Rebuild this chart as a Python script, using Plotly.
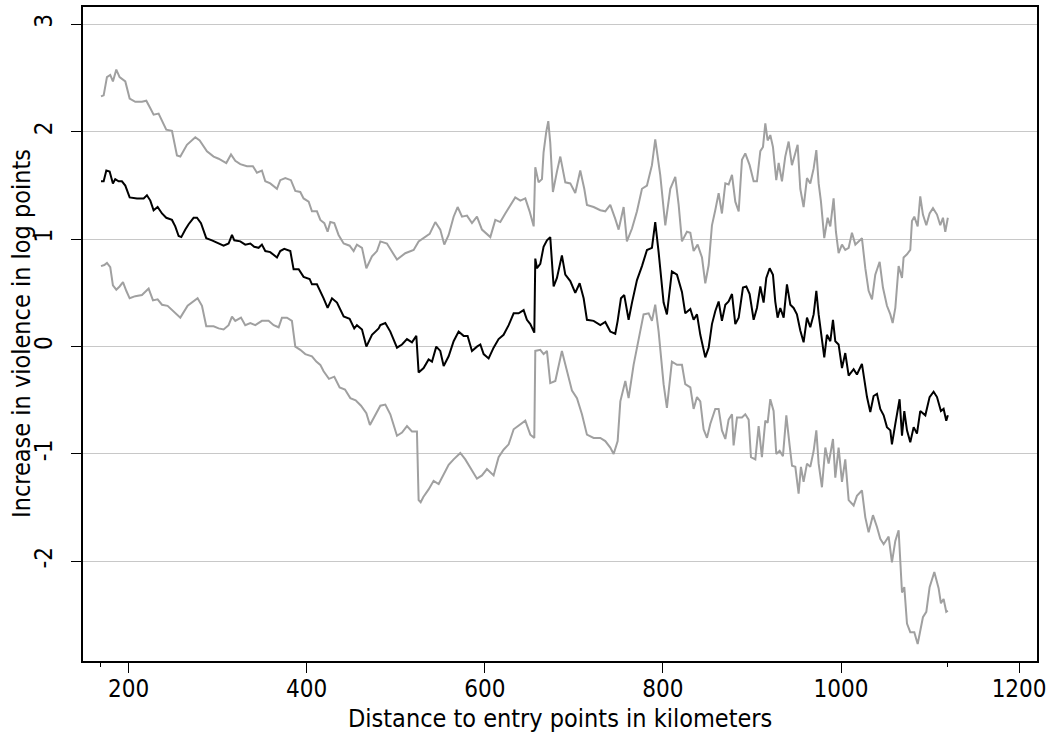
import plotly.graph_objects as go

# ---------------- data ----------------
x_est = [169, 172, 175, 178.7, 182.4, 185, 188.8, 192.5, 196.3, 201.2, 209.4, 216.9, 220.6, 224.4,
         228.1, 232.6, 237.5, 242.3, 248.7, 252.4, 256.2, 259.2, 263.7, 267.4, 273, 276.8, 281.3,
         287.2, 293.6, 301.1, 306.7, 312.3, 316.1, 318.7, 325.4, 331, 336.7, 341.1, 346, 349.7,
         353.5, 359.1, 366.6, 370.3, 374.8, 381.6, 385.3, 391, 396.5, 403.3, 405.9, 411.5, 416,
         419, 423.5, 428.4, 434, 441.5, 448.2, 453.4, 456.4, 462.1, 467, 473.3, 480.8,
         482.7, 488.3, 493.9, 501.4, 507, 512.6, 518.2, 523.1, 525.7, 531.3, 536.9, 540.7, 545.5,
         550, 553.8, 559.4, 565, 570.6, 576.2, 580.7, 585.6, 591.2, 595, 598.7, 604.3, 609.9,
         615.5, 621.1, 626.8, 632.4, 638, 643.6, 647.3, 651.1, 655.6, 656.7, 658.6, 662.3, 666,
         669.8, 673.5, 677.3, 681, 686.6, 690.4, 696, 701.6, 706.5, 711, 714.7, 722.2, 729.7,
         735.3, 740.9, 746.5, 749.2, 752.9, 756.6, 761.5, 765.3, 770.9, 776.5, 782.1, 787.7,
         791.4, 795.2, 800.8, 804.5, 810.1, 815.8, 821.4, 825.1,
         830.8, 834.5, 838.3, 842, 847.6, 851.4, 855.1, 858.8, 862.6, 866.3, 870.1, 873.8, 877.6,
         881.3, 885.1, 889.9, 893.7, 897.4, 901.9, 905.6, 909.4, 913.1, 916.1, 919.9, 923.6,
         926.2, 928.8, 931.8, 935.6, 939.3, 943.1, 946.8, 950.5, 954.3, 958, 961.8, 965.5, 969.3,
         972.3, 974.9, 977.5, 981.2, 984.2, 988, 991, 993.6, 997.3, 1001.1, 1004.8, 1008.6,
         1014.2, 1017.9, 1023.5,
         1029.2, 1032.9, 1036.6, 1040.4, 1044.1, 1047.9, 1051.6, 1055.4, 1057.2, 1061, 1065.8,
         1068.5, 1071.1, 1074.1, 1077.8, 1081.6, 1085.3, 1089, 1094.7, 1099.5, 1104, 1107.8,
         1112.2, 1115.2, 1118.2, 1120]
y_est = [1.54, 1.54, 1.64, 1.63, 1.52, 1.56, 1.54, 1.54, 1.50, 1.39, 1.38, 1.38, 1.41, 1.36,
         1.27, 1.30, 1.24, 1.20, 1.18, 1.12, 1.03, 1.02, 1.09, 1.14, 1.20, 1.20, 1.15,
         1.01, 0.99, 0.96, 0.94, 0.96, 1.04, 0.99, 0.98, 0.95, 0.96, 0.93, 0.92, 0.95,
         0.89, 0.88, 0.83, 0.89, 0.91, 0.89, 0.72, 0.72, 0.65, 0.63, 0.58, 0.58, 0.51,
         0.45, 0.36, 0.45, 0.41, 0.28, 0.26, 0.17, 0.20, 0.16, 0.00, 0.11, 0.17,
         0.20, 0.22, 0.14, -0.01, 0.02, 0.07, 0.04, 0.10, -0.24, -0.20, -0.12, -0.14, 0.00,
         -0.04, -0.18, -0.09, 0.05, 0.14, 0.10, 0.10, -0.04, 0.00, 0.02, -0.07, -0.11, -0.01,
         0.07, 0.11, 0.20, 0.31, 0.31, 0.34, 0.25, 0.21, 0.13, 0.82, 0.73, 0.77, 0.93,
         0.99, 1.02, 0.56, 0.64, 0.85, 0.67, 0.61, 0.50, 0.59, 0.45, 0.25, 0.24, 0.20,
         0.23, 0.14, 0.12, 0.24, 0.45, 0.48, 0.25, 0.41, 0.62, 0.75, 0.90, 0.92,
         1.16, 0.88, 0.41, 0.30, 0.70, 0.67, 0.51, 0.31,
         0.35, 0.25, 0.30, 0.11, -0.10, -0.01, 0.21, 0.33, 0.42, 0.24, 0.39, 0.42, 0.49,
         0.21, 0.27, 0.55, 0.56, 0.49, 0.25, 0.36, 0.56, 0.41, 0.64, 0.73, 0.67,
         0.42, 0.27, 0.36, 0.27, 0.58, 0.39, 0.36, 0.30, 0.15, 0.04, 0.27, 0.18, 0.30,
         0.52, 0.30, 0.11, -0.10, 0.11, 0.05, 0.25, 0.05, 0.02, -0.20, -0.06, -0.27,
         -0.21, -0.26, -0.16,
         -0.47, -0.61, -0.46, -0.44, -0.58, -0.64, -0.75, -0.78, -0.91, -0.72, -0.49,
         -0.83, -0.60, -0.78, -0.89, -0.75, -0.81, -0.60, -0.64, -0.47, -0.42, -0.47,
         -0.60, -0.58, -0.69, -0.64]

x_upper = [169, 172, 175.7, 179.4, 182.4, 186.2, 189.9, 196.3, 201.2, 207.5, 215, 219.9, 224.4,
           228.1, 233.7, 237.5, 242.3, 248.7, 254.3, 258.1, 265.5, 274.9, 279.8, 288, 295.5,
           301.1, 309.7, 315, 319.8, 325.4, 332.9, 339.6, 344.1, 349.7, 353.5, 359.1, 366.6,
           370.3, 376, 382.3, 387.2, 392.8, 396.5, 402.2, 405.9, 411.5, 415.3, 419.8, 423.5,
           426.5, 431, 435.8, 441.5, 448.2, 452.7, 456.4, 462.1, 467, 473.3, 478.9,
           482.7, 490.1, 501.4, 510.7, 520.1, 525.7, 531.3, 538.1, 544.4, 550, 554.5, 559.4,
           565, 569.5, 574.4, 580, 585.6, 591.2, 596.8, 602.4, 606.2, 611.8, 617.4, 623, 628.6,
           634.2, 639.9, 645.5, 650.3, 654.9, 656.7, 660.4, 664.2, 666, 669, 671.3, 673.5,
           676.5, 681, 684.8, 690.4, 696, 701.6, 707.2, 711.7, 714.7, 722.2, 729.7, 735.3,
           740.9, 746.5, 750.3, 755.9, 759.6, 765.3, 770.9, 776.5, 782.1, 787.7, 791.4, 797,
           802.7, 808.3, 813.9, 817.7, 821.4, 827,
           830.8, 834.5, 839, 843.9, 847.6, 851.4, 855.1, 858.8, 862.6, 866.3, 870.1, 873.8,
           877.6, 881.3, 885.1, 888.8, 892.5, 897.4, 901.9, 905.6, 909.4, 912.4, 915, 917.6,
           920.6, 923.6, 927.3, 930, 933.7, 937.4, 941.2, 944.9, 948.7, 951.3, 954.3, 958,
           961.8, 965.5, 969.3, 972.3, 974.9, 977.5, 981.2, 985, 988, 991.7, 994.3, 997.3,
           1001.1, 1004.8, 1008.6, 1012.3, 1016.1, 1019.8, 1023.5, 1027.3, 1031, 1034.8,
           1038.5, 1043.4, 1047.1, 1051.6, 1055.4, 1058, 1061, 1064.7, 1068.5, 1070.3, 1074.1,
           1077.8, 1079.7, 1082.3, 1086.1, 1089, 1092, 1095.8, 1099.5, 1103.3, 1107.8, 1111.5,
           1114.5, 1117.1, 1120]
y_upper = [2.33, 2.34, 2.51, 2.53, 2.47, 2.58, 2.51, 2.47, 2.31, 2.28, 2.28, 2.29, 2.22,
           2.16, 2.17, 2.11, 2.02, 2.01, 1.78, 1.77, 1.88, 1.95, 1.92, 1.82, 1.77,
           1.75, 1.71, 1.79, 1.73, 1.70, 1.68, 1.68, 1.62, 1.64, 1.54, 1.52, 1.47,
           1.55, 1.57, 1.55, 1.45, 1.44, 1.38, 1.35, 1.26, 1.26, 1.18, 1.15, 1.07,
           1.16, 1.15, 1.04, 0.96, 0.94, 0.89, 0.95, 0.92, 0.73, 0.84, 0.89,
           0.98, 0.96, 0.81, 0.87, 0.90, 0.98, 1.01, 1.05, 1.16, 1.09, 0.95, 1.04,
           1.21, 1.30, 1.21, 1.22, 1.15, 1.21, 1.09, 1.05, 1.02, 1.18, 1.16, 1.24, 1.32,
           1.39, 1.36, 1.38, 1.26, 1.12, 1.67, 1.53, 1.56, 1.81, 2.00, 2.10, 1.90,
           1.44, 1.63, 1.77, 1.53, 1.52, 1.43, 1.64, 1.47, 1.32, 1.30, 1.27, 1.26,
           1.32, 1.19, 1.09, 1.30, 0.98, 1.10, 1.26, 1.47, 1.50, 1.69, 1.93, 1.60,
           1.13, 1.47, 1.58, 1.32, 0.98, 1.07,
           1.06, 0.89, 0.95, 0.83, 0.59, 0.76, 1.13, 1.27, 1.43, 1.24, 1.52, 1.51,
           1.60, 1.35, 1.26, 1.74, 1.80, 1.69, 1.54, 1.54, 1.82, 1.86, 2.08, 1.92,
           1.97, 1.86, 1.55, 1.71, 1.54, 1.77, 1.91, 1.69, 1.82, 1.88, 1.47, 1.30,
           1.57, 1.52, 1.66, 1.83, 1.52, 1.35, 1.01, 1.20, 1.12, 1.38, 1.07, 0.87,
           0.95, 0.90, 0.92, 1.06, 0.95, 0.98, 1.01, 0.73, 0.52, 0.44,
           0.67, 0.79, 0.55, 0.38, 0.30, 0.22, 0.36, 0.75, 0.64, 0.83, 0.86,
           0.90, 1.17, 1.21, 1.12, 1.40, 1.23, 1.13, 1.24, 1.29, 1.23, 1.13,
           1.20, 1.07, 1.20]

x_lower = [169, 172.7, 175.7, 179.4, 182.4, 186.2, 189.9, 193.7, 197.4, 201.2, 207.5, 215, 222.5,
           227.4, 232.6, 237.5, 243.8, 249.8, 258.1, 266.3, 272.3, 277.5, 282.4, 287.2, 295.5,
           301.1, 306.7, 312.3, 316.1, 319.8, 326.2, 331, 336.7, 342.3, 349.7, 357.2, 362.9,
           368.5, 372.2, 377.8, 383.4, 387.2, 392.8, 398.4, 405.9, 410.8, 415.3, 419, 425, 431,
           437, 443, 449, 455, 461, 467, 471, 476,
           482.7, 488.3, 493.9, 501.4, 507, 512.6, 518.2, 523.8, 525.7, 528, 531, 536.9, 542.5,
           548.2, 553.8, 559.4, 565, 572.5, 578.1, 585.6, 591.2, 596.8, 602.4, 609.9, 615.5,
           621.1, 626.8, 632.4, 639.9, 645.5, 651.1, 655.6, 656.7, 662.3, 666, 669.8, 673.5,
           679.2, 686.6, 692.3, 697.9, 703.5, 709.1, 714.7, 722.2, 729.7, 735.3, 740.9, 744.7,
           749.2, 752.2, 757.8, 761.5, 767.1, 772.7, 778.3, 784, 787.7, 791.4, 795.2, 800.8,
           804.5, 810.1, 815.8, 821.4, 825.1,
           830.8, 834.5, 838.3, 842, 845.7, 849.5, 853.2, 858.8, 862.6, 866.3, 870.1, 873.8,
           877.6, 879.4, 883.2, 888.8, 892.5, 896.3, 898.9, 903.8, 907.5, 911.2, 915, 917.6,
           920.6, 924.3, 927.3, 931.1, 934.8, 938.6, 942.3, 945, 948.7, 952.4, 955, 958, 961.8,
           965.5, 969.3, 972.3, 974.9, 978.6, 982.4, 986.1, 991, 993.6, 997.3, 1001.1, 1004.8,
           1008.6, 1014.2, 1017.9, 1023.5, 1027.3, 1031, 1035.9, 1040.4, 1044.1, 1047.9, 1053.5,
           1057.2, 1061, 1064.7, 1066.6, 1068.5, 1071.1, 1074.1, 1077.8, 1082.3, 1086.1, 1089,
           1092, 1095.8, 1099.5, 1104.8, 1109.6, 1112.2, 1115.2, 1118.2, 1120]
y_lower = [0.75, 0.76, 0.78, 0.74, 0.57, 0.53, 0.56, 0.60, 0.52, 0.45, 0.47, 0.48, 0.54,
           0.43, 0.44, 0.39, 0.38, 0.33, 0.27, 0.38, 0.42, 0.45, 0.38, 0.19, 0.19,
           0.17, 0.16, 0.20, 0.28, 0.24, 0.27, 0.20, 0.22, 0.20, 0.24, 0.24, 0.20,
           0.18, 0.27, 0.27, 0.24, 0.00, -0.03, -0.07, -0.09, -0.14, -0.17, -0.23, -0.30, -0.28,
           -0.38, -0.40, -0.48, -0.50, -0.55, -0.62, -0.73, -0.65,
           -0.55, -0.54, -0.63, -0.83, -0.80, -0.74, -0.79, -0.79, -1.43, -1.45, -1.40, -1.33,
           -1.25, -1.28, -1.19, -1.10, -1.05, -0.99, -1.05, -1.16, -1.23, -1.20, -1.14, -1.20,
           -1.03, -0.96, -0.91, -0.77, -0.72, -0.69, -0.82, -0.85, -0.04, -0.03, -0.07, -0.04,
           -0.34, -0.32, -0.04, -0.23, -0.41, -0.48, -0.63, -0.82, -0.85, -0.85, -0.88, -0.94,
           -1.00, -0.88, -0.51, -0.32, -0.48, -0.17, 0.08, 0.30, 0.31, 0.24, 0.39, 0.14,
           -0.35, -0.57, -0.14, -0.17, -0.17, -0.35,
           -0.38, -0.58, -0.47, -0.51, -0.77, -0.85, -0.72, -0.58, -0.58, -0.78, -0.86, -0.68,
           -0.63, -0.92, -0.66, -0.66, -0.63, -0.68, -1.03, -1.05, -0.74, -1.03, -0.69, -0.71,
           -0.49, -0.60, -1.00, -0.97, -1.02, -0.64, -0.92, -1.11, -1.12, -1.37, -1.12, -1.26,
           -1.09, -1.12, -0.97, -0.78, -1.09, -1.31, -0.94, -1.09, -0.86, -1.22, -0.94, -1.26,
           -1.05, -1.43, -1.48, -1.39, -1.34, -1.59, -1.73, -1.57, -1.68, -1.79, -1.84, -1.77,
           -2.01, -1.81, -1.71, -2.02, -2.29, -2.24, -2.58, -2.66, -2.66, -2.77, -2.66,
           -2.52, -2.47, -2.24, -2.10, -2.25, -2.39, -2.35, -2.47, -2.46]

x_tickvals = [200, 400, 600, 800, 1000, 1200]
x_ticktext = ["200", "400", "600", "800", "1000", "1200"]
y_tickvals = [-2, -1, 0, 1, 2, 3]
y_ticktext = ["-2", "-1", "0", "1", "2", "3"]
x_minor_ticks = [x_est[0], x_est[-1]]   # short ticks at the data range ends

x_title = "Distance to entry points in kilometers"
y_title = "Increase in violence in log points"

# ---------------- figure ----------------
FONT = "DejaVu Sans Condensed, DejaVu Sans, sans-serif"
GRAY = "#a0a0a0"
XR = [148.8, 1220.1]
YR = [-2.928, 3.163]

fig = go.Figure()
fig.add_trace(go.Scatter(x=x_upper, y=y_upper, mode="lines",
                         line=dict(color=GRAY, width=2), hoverinfo="skip"))
fig.add_trace(go.Scatter(x=x_lower, y=y_lower, mode="lines",
                         line=dict(color=GRAY, width=2), hoverinfo="skip"))
fig.add_trace(go.Scatter(x=x_est, y=y_est, mode="lines",
                         line=dict(color="black", width=2), hoverinfo="skip"))
# helper trace for the secondary (short-tick) axis
fig.add_trace(go.Scatter(x=x_minor_ticks, y=[y_est[0], y_est[-1]], xaxis="x2", mode="markers",
                         marker=dict(opacity=0), hoverinfo="skip"))

fig.update_layout(
    width=1052, height=736,
    margin=dict(l=83, r=15, t=5, b=75),
    plot_bgcolor="white", paper_bgcolor="white",
    font=dict(family=FONT, size=25, color="black"),
    showlegend=False,
    xaxis=dict(range=XR, tickmode="array", tickvals=x_tickvals, ticktext=x_ticktext,
               ticks="outside", ticklen=10, tickwidth=1.3, tickcolor="black", showline=True,
               linecolor="black", linewidth=1.5, mirror=True, showgrid=False,
               zeroline=False, ticklabelstandoff=-5, tickfont=dict(size=24)),
    xaxis2=dict(range=XR, overlaying="x", side="bottom", tickmode="array",
                tickvals=x_minor_ticks, ticktext=["", ""], ticks="outside", ticklen=5,
                tickwidth=1.3, tickcolor="black", showline=False, showgrid=False,
                zeroline=False, anchor="y"),
    yaxis=dict(range=YR, tickmode="array", tickvals=y_tickvals, ticktext=y_ticktext,
               tickangle=-90, ticks="outside", ticklen=10, tickwidth=1.3, tickcolor="black",
               showline=True, linecolor="black", linewidth=1.5, mirror=True,
               showgrid=True, gridcolor="#c8c8c8", gridwidth=1, zeroline=False,
               ticklabelstandoff=10, tickfont=dict(size=24)),
    annotations=[
        dict(text=x_title, xref="paper", yref="paper", x=0.5, y=0, xanchor="center",
             yanchor="middle", yshift=-57, showarrow=False, font=dict(size=25)),
        dict(text=y_title, xref="paper", yref="paper", x=0, y=0.5, xanchor="center",
             yanchor="middle", xshift=-62, textangle=-90, showarrow=False,
             font=dict(size=25)),
    ],
)

fig.write_html("out.html")
